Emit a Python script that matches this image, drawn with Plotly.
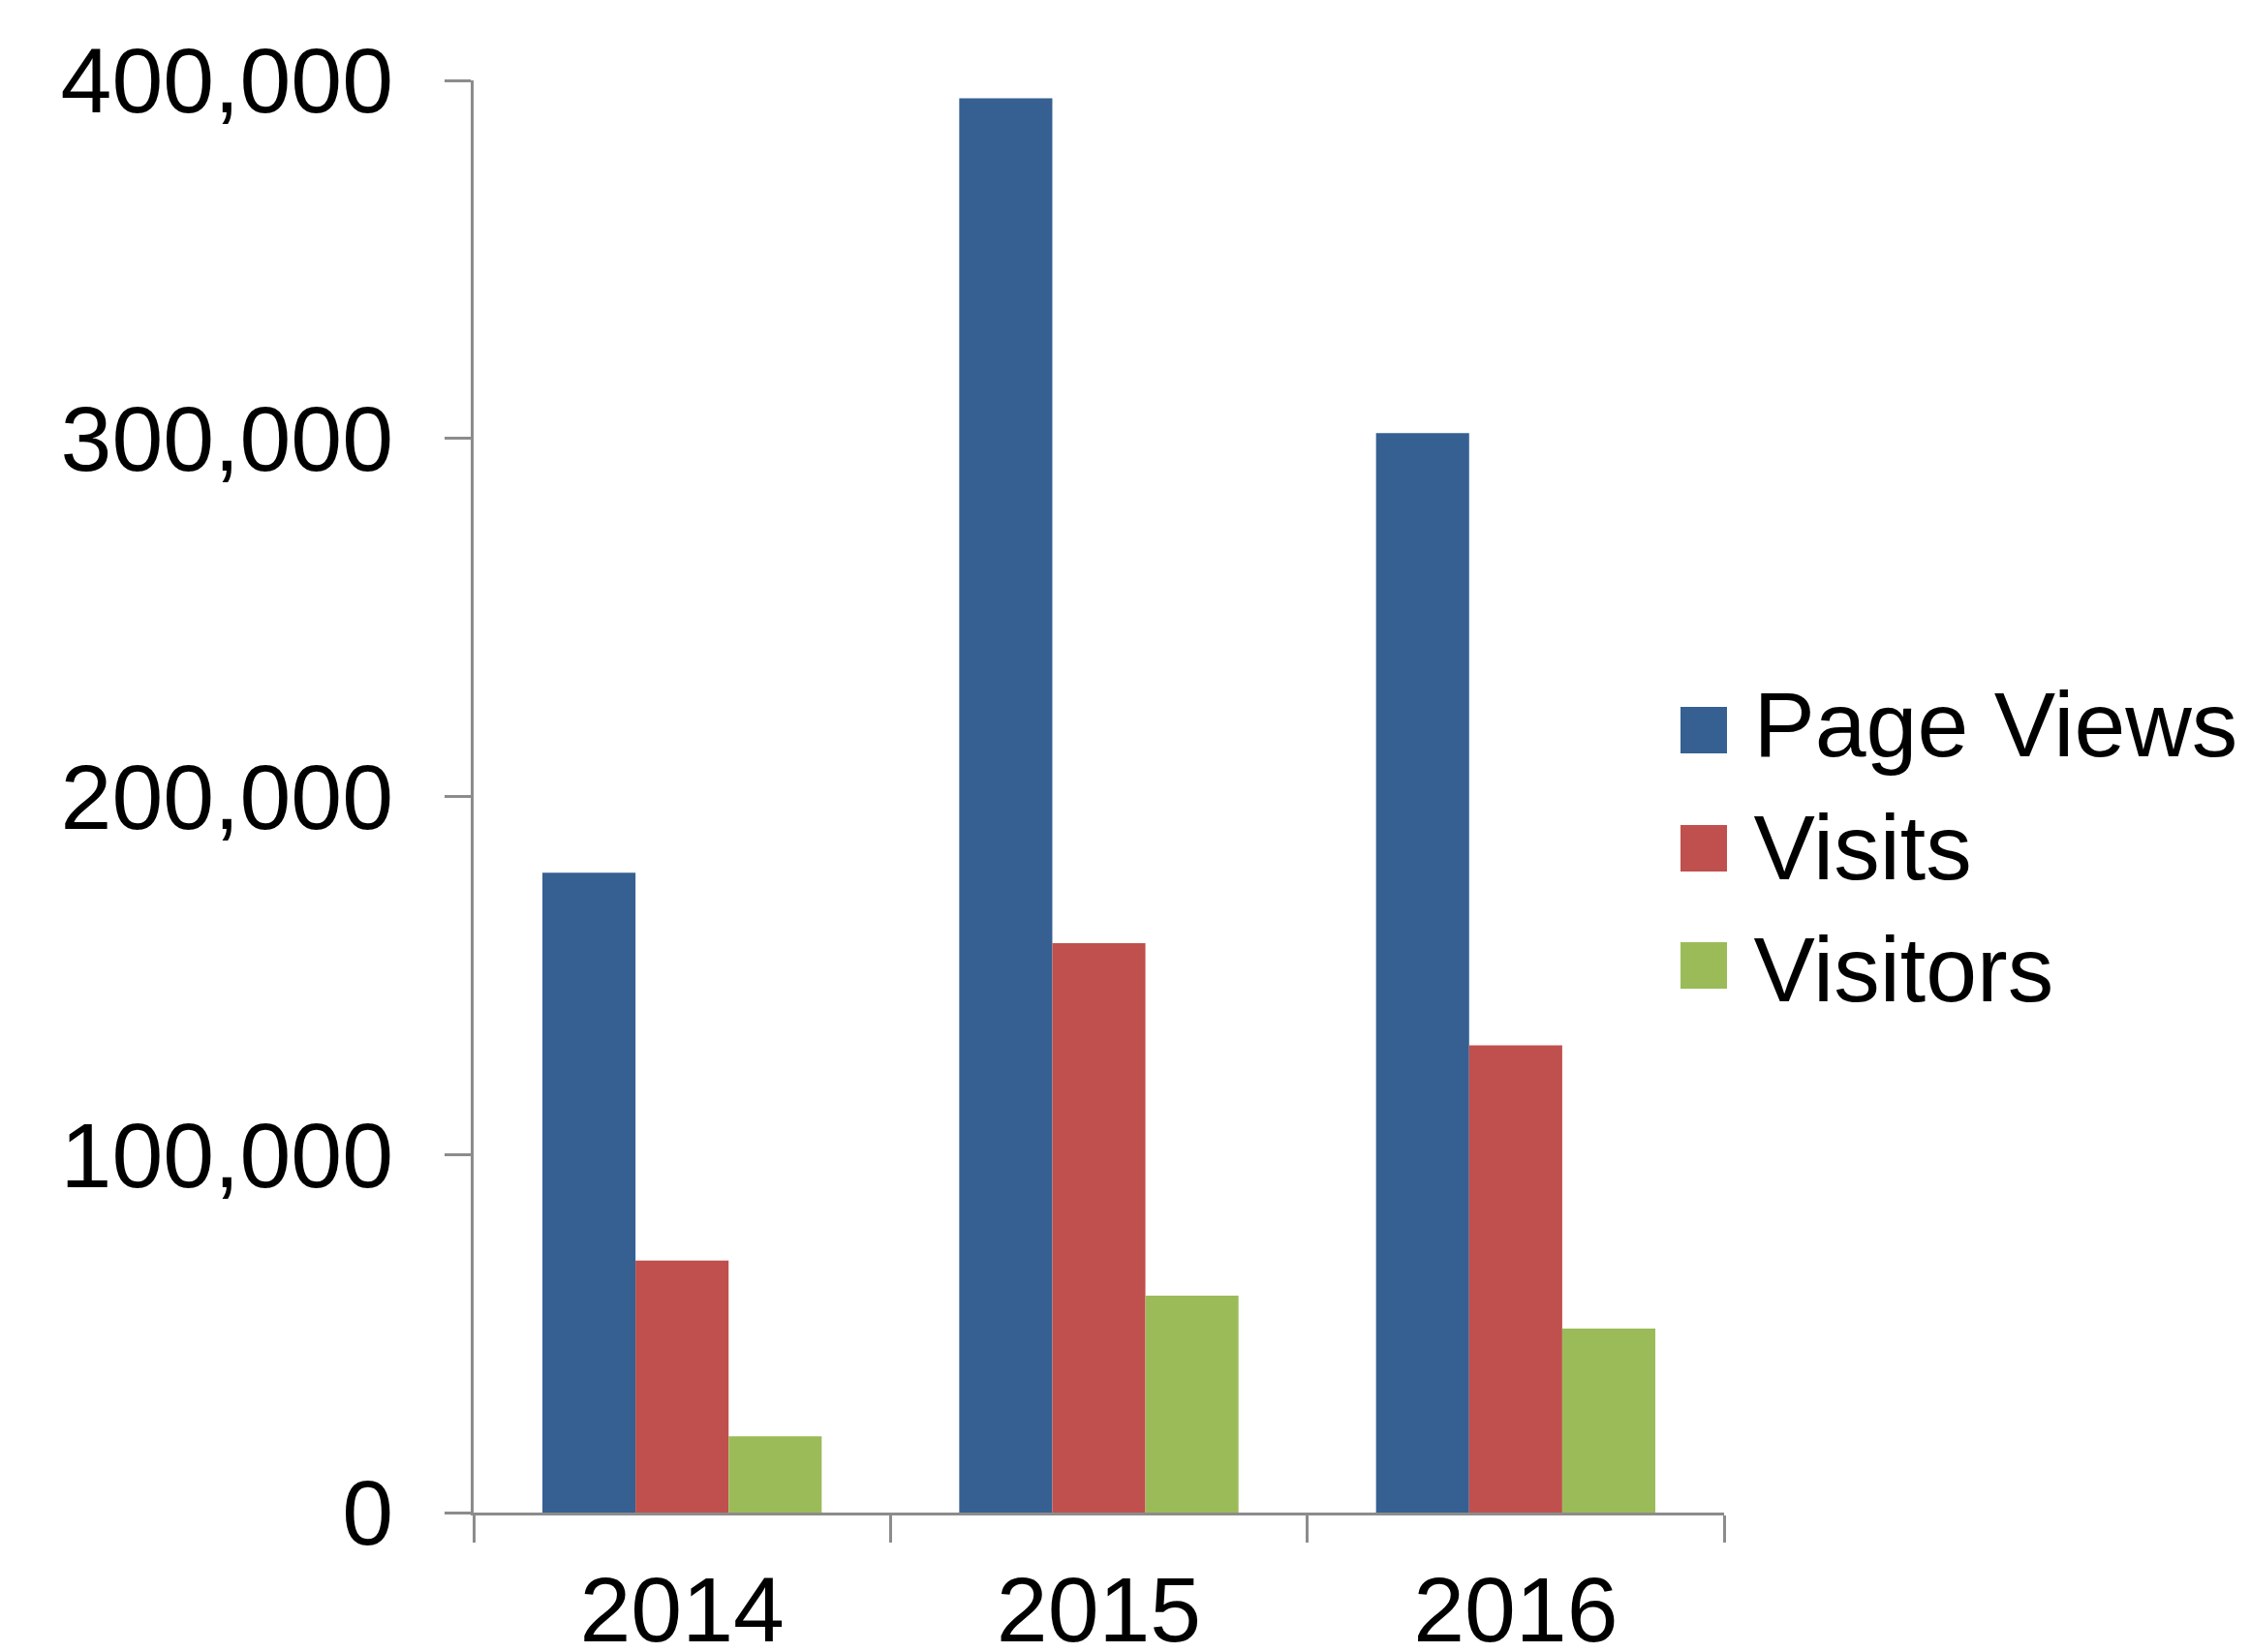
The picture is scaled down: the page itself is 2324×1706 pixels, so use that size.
import plotly.graph_objects as go

years = ["2014", "2015", "2016"]
series_names = ["Page Views", "Visits", "Visitors"]
page_views = [178700, 395000, 301500]
visits = [70400, 159000, 130500]
visitors = [21300, 60600, 51400]
y_ticks = [0, 100000, 200000, 300000, 400000]

colors = ["#366092", "#C0504D", "#9BBB59"]
values = [page_views, visits, visitors]

FONT = "Liberation Sans, Arial, sans-serif"
AXIS_GRAY = "#8c8c8c"
FS = 95

# page layout in window pixels (page body adds an 8px offset)
W, H, BODY = 2324, 1706, 8
PL, PR, PT, PB = 489, 1780, 83, 1562


def px_x(x):
    return (x - PL) / (PR - PL)


def px_y(y):
    return (PB - y) / (PB - PT)


fig = go.Figure()
for name, vals, col in zip(series_names, values, colors):
    fig.add_trace(go.Bar(x=years, y=vals, name=name,
                         marker=dict(color=col, line=dict(width=0))))

# larger legend swatches drawn behind the native legend symbols
swatch_centers = [754, 876, 997]
shapes = []
for col, cy in zip(colors, swatch_centers):
    shapes.append(dict(type="rect", xref="paper", yref="paper",
                       x0=px_x(1735), x1=px_x(1783),
                       y0=px_y(cy + 24), y1=px_y(cy - 24),
                       fillcolor=col, line=dict(width=0), layer="above"))

fig.update_layout(
    width=W, height=H,
    margin=dict(l=PL - BODY, r=W - (PR - BODY), t=PT - BODY,
                b=H - (PB - BODY), pad=0, autoexpand=False),
    paper_bgcolor="white", plot_bgcolor="white",
    barmode="group", bargap=0.33, bargroupgap=0,
    font=dict(family=FONT, size=FS, color="black"),
    showlegend=True,
    legend=dict(x=0.943, xanchor="left", y=px_y(676), yanchor="top",
                font=dict(family=FONT, size=FS, color="black"),
                itemwidth=94, bgcolor="rgba(0,0,0,0)"),
    shapes=shapes,
)

fig.update_xaxes(
    type="category", showline=True, linecolor=AXIS_GRAY, linewidth=3,
    ticks="outside", tickson="boundaries", ticklen=28, tickwidth=3,
    tickcolor=AXIS_GRAY, showgrid=False, zeroline=False, automargin=False,
    tickfont=dict(family=FONT, size=FS, color="black"),
    ticklabelstandoff=16,
)
fig.update_yaxes(
    range=[0, 400000], tickvals=y_ticks, tickformat=",",
    showline=True, linecolor=AXIS_GRAY, linewidth=3,
    ticks="outside", ticklen=27, tickwidth=3, tickcolor=AXIS_GRAY,
    showgrid=False, zeroline=False, automargin=False,
    tickfont=dict(family=FONT, size=FS, color="black"),
    ticklabelstandoff=34,
)

fig.write_html("out.html")
